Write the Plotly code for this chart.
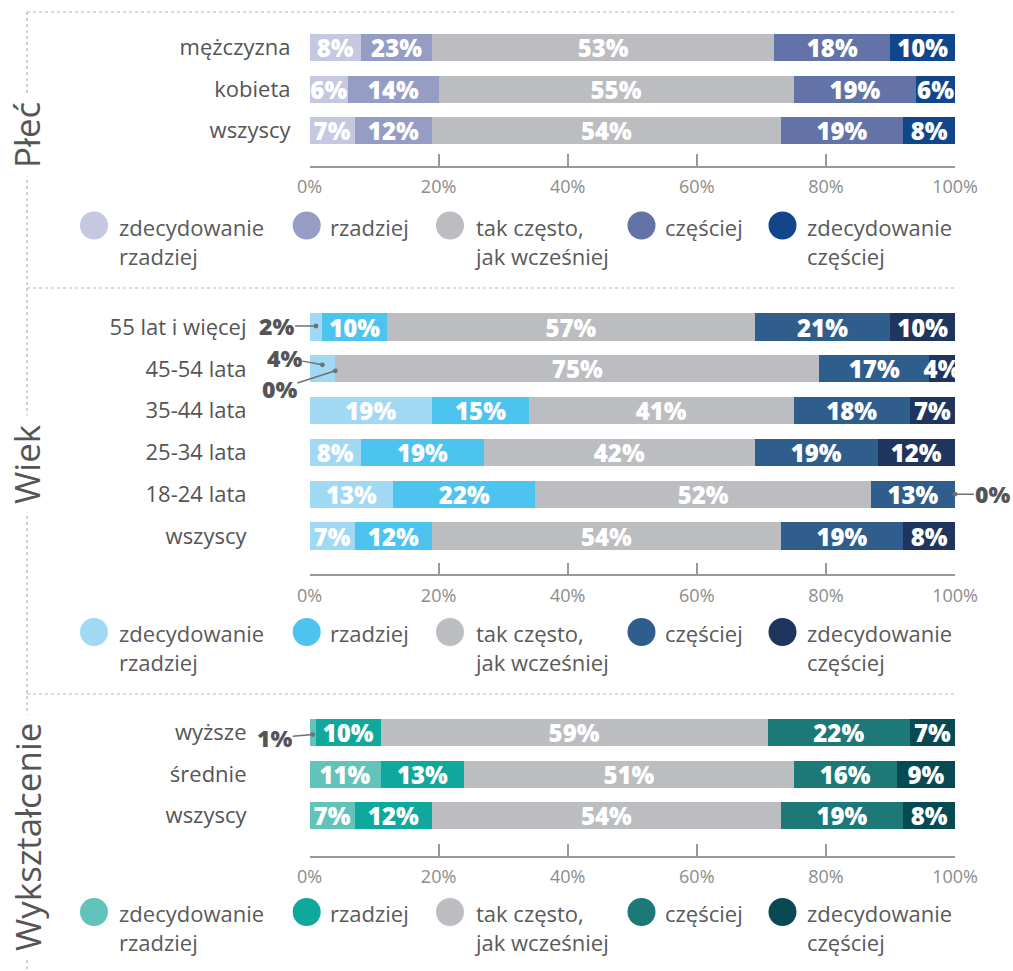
import plotly.graph_objects as go

W, H = 1013, 971
FONT = 'Open Sans'

series_names = ['zdecydowanie<br>rzadziej', 'rzadziej', 'tak często,<br>jak wcześniej',
                'częściej', 'zdecydowanie<br>częściej']
gray = '#bcbdc0'
plec_colors = ['#c6c8e1', '#959dc5', gray, '#6373a7', '#11478a']
wiek_colors = ['#a1d9f4', '#4cc4ef', gray, '#2f5e8d', '#1f355d']
wyk_colors = ['#62c3bb', '#0fa89c', gray, '#1d7878', '#074a53']

# Płeć - bar lengths per series and the printed labels
plec_categories = ['mężczyzna', 'kobieta', 'wszyscy']
plec_widths = [[8, 6, 7], [11, 14, 12], [53, 55, 54], [18, 19, 19], [10, 6, 8]]
plec_labels = [[8, 6, 7], [23, 14, 12], [53, 55, 54], [18, 19, 19], [10, 6, 8]]

# Wiek
wiek_categories = ['55 lat i więcej', '45-54 lata', '35-44 lata', '25-34 lata', '18-24 lata', 'wszyscy']
wiek_widths = [[2, 4, 19, 8, 13, 7], [10, 0, 15, 19, 22, 12], [57, 75, 41, 42, 52, 54],
               [21, 17, 18, 19, 13, 19], [10, 4, 7, 12, 0, 8]]
wiek_labels = wiek_widths

# Wykształcenie
wyk_categories = ['wyższe', 'średnie', 'wszyscy']
wyk_widths = [[1, 11, 7], [10, 13, 12], [60, 51, 54], [22, 16, 19], [7, 9, 8]]
wyk_labels = [[1, 11, 7], [10, 13, 12], [59, 51, 54], [22, 16, 19], [7, 9, 8]]

x_ticks = [0, 20, 40, 60, 80, 100]


def fx(x):
    return x / W


def fy(y):
    return 1 - y / H


# panel layout in pixels: title, bar rows, axis line, legend row, label standoff
panels = [
    dict(title='Płeć', title_y=135, cats=plec_categories, widths=plec_widths, labels=plec_labels,
         colors=plec_colors, top=26.7, step=41.6, axis_y=166, legend_y=225.5, standoff=18,
         callouts=[]),
    dict(title='Wiek', title_y=464, cats=wiek_categories, widths=wiek_widths, labels=wiek_labels,
         colors=wiek_colors, top=306.1, step=41.8, axis_y=574.3, legend_y=632, standoff=62,
         callouts=[(0, 0, -39, 0, 1), (1, 0, -38, -7, 4), (1, 1, -56, 18, -2), (4, 4, 37, 0, 0)]),
    dict(title='Wykształcenie', title_y=837, cats=wyk_categories, widths=wyk_widths, labels=wyk_labels,
         colors=wyk_colors, top=711.8, step=41.5, axis_y=856, legend_y=912, standoff=62,
         callouts=[(0, 0, -38, 3, -2)]),
]

x_domain = [fx(309.5), fx(955)]
legend_circles_x = [94, 306.7, 450, 641.5, 782.5]
legend_text_x = [117, 328, 471.5, 663, 805]

fig = go.Figure()
shapes = []
annotations = []
layout_axes = {}

for i, p in enumerate(panels):
    n = len(p['cats'])
    suffix = '' if i == 0 else str(i + 1)
    span = (p['axis_y'] - p['top']) / p['step']
    outside = {(c, s) for c, s, *_ in p['callouts']}

    for s in range(5):
        texts = []
        for c in range(n):
            texts.append('' if (c, s) in outside else f"{p['labels'][s][c]}%")
        fig.add_trace(go.Bar(
            orientation='h',
            x=p['widths'][s],
            y=p['cats'],
            width=0.65,
            marker=dict(color=p['colors'][s], line=dict(width=0)),
            text=texts,
            textposition='inside',
            insidetextanchor='middle',
            textangle=0,
            constraintext='none',
            textfont=dict(family=FONT, size=24, color='white', weight=800),
            showlegend=False,
            hovertemplate='%{y}: %{x}%<extra></extra>',
            xaxis='x' + suffix,
            yaxis='y' + suffix,
        ))

    layout_axes['xaxis' + suffix] = dict(
        domain=x_domain, range=[0, 100], anchor='y' + suffix, automargin=False,
        tickvals=x_ticks, ticktext=[f'{t}%' for t in x_ticks],
        ticks='inside', ticklen=12, tickwidth=1.5, tickcolor='#9a9a9a',
        showline=True, linecolor='#9a9a9a', linewidth=1.5,
        showgrid=False, zeroline=False, ticklabelstandoff=4,
        tickfont=dict(family=FONT, size=18, color='#8c8c8c'),
        fixedrange=True,
    )
    layout_axes['yaxis' + suffix] = dict(
        domain=[fy(p['axis_y']), fy(p['top'])], anchor='x' + suffix, automargin=False,
        type='category', categoryorder='array', categoryarray=p['cats'],
        range=[span - 0.5, -0.5],
        showline=False, showgrid=False, zeroline=False, ticks='',
        ticklabelstandoff=p['standoff'],
        tickfont=dict(family=FONT, size=22, color='#555555'),
        fixedrange=True,
    )

    # callouts for tiny segments
    for c, s, ax, ay, ysh in p['callouts']:
        start = sum(p['widths'][k][c] for k in range(s))
        annotations.append(dict(
            x=start + p['widths'][s][c] / 2, y=p['cats'][c],
            xref='x' + suffix, yref='y' + suffix,
            text=f"{p['labels'][s][c]}%", showarrow=True,
            ax=ax, ay=ay, yshift=ysh, arrowhead=6, arrowsize=0.8, arrowwidth=1.5,
            arrowcolor='#707070', standoff=0, borderpad=0,
            font=dict(family=FONT, size=23, color='#555555', weight=800),
        ))

    # side title
    annotations.append(dict(
        x=fx(27), y=fy(p['title_y']), xref='paper', yref='paper', text=p['title'],
        showarrow=False, textangle=-90, xanchor='center', yanchor='middle',
        font=dict(family=FONT, size=35, color='#555555'), bgcolor='white', borderpad=8,
    ))

    # legend
    for s in range(5):
        r = 14
        cx, cy = legend_circles_x[s], p['legend_y']
        shapes.append(dict(
            type='circle', xref='paper', yref='paper',
            x0=fx(cx - r), x1=fx(cx + r), y0=fy(cy + r), y1=fy(cy - r),
            fillcolor=p['colors'][s], line=dict(width=0),
        ))
        annotations.append(dict(
            x=fx(legend_text_x[s]), y=fy(cy - 16), xref='paper', yref='paper',
            text=series_names[s], showarrow=False, xanchor='left', yanchor='top',
            align='left', font=dict(family=FONT, size=22, color='#5a5a5a'),
        ))

# dotted frame
dot = dict(color='#b5b5b5', width=1.2, dash='dot')
for y in [12, 288, 694]:
    shapes.append(dict(type='line', xref='paper', yref='paper',
                       x0=fx(27), x1=fx(955), y0=fy(y), y1=fy(y), line=dot))
shapes.append(dict(type='line', xref='paper', yref='paper',
                   x0=fx(27), x1=fx(27), y0=fy(12), y1=0, line=dot))

fig.update_layout(
    template='none',
    width=W, height=H,
    autosize=False,
    margin=dict(l=0, r=0, t=0, b=0, pad=0),
    barmode='stack',
    plot_bgcolor='white',
    paper_bgcolor='white',
    showlegend=False,
    shapes=shapes,
    annotations=annotations,
    font=dict(family=FONT),
    **layout_axes,
)

fig.write_html("out.html", config={'displayModeBar': False},
               post_script="document.body.style.margin='0';document.body.style.overflow='hidden';")
